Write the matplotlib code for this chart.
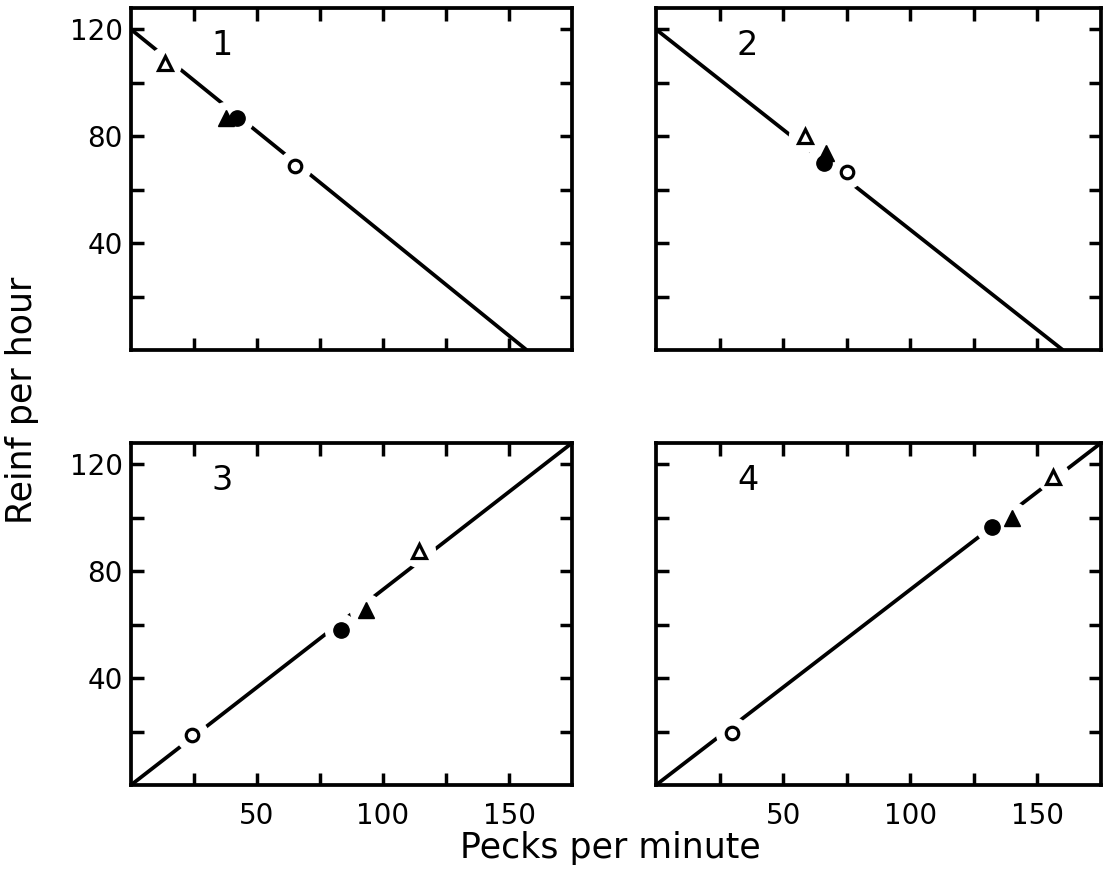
import matplotlib
matplotlib.use("Agg")
import matplotlib.pyplot as plt

# ---- data ----
panel_labels = ["1", "2", "3", "4"]
line_x = [[0, 157], [0, 160], [0, 175], [0, 175]]
line_y = [[120, 0], [120, 0], [0, 128], [0, 128]]

open_tri_x = [13.6, 58.5, 114.3, 156.1]
open_tri_y = [107.5, 80.0, 87.5, 115.4]
filled_tri_x = [37.7, 66.7, 93.3, 140.0]
filled_tri_y = [86.9, 73.7, 65.6, 100.0]
filled_circ_x = [42.0, 66.0, 83.5, 132.2]
filled_circ_y = [86.9, 70.0, 57.9, 96.6]
open_circ_x = [65.1, 75.3, 24.3, 29.8]
open_circ_y = [68.7, 66.5, 18.7, 19.6]

x_ticks = [25, 50, 75, 100, 125, 150]
x_ticklabels = ["", "50", "", "100", "", "150"]
y_ticks = [20, 40, 60, 80, 100, 120]
y_ticklabels = ["", "40", "", "80", "", "120"]
x_max = 175
y_max = 128

plt.rcParams['font.family'] = ['DejaVu Sans']

W, H = 1105, 882
fig = plt.figure(figsize=(W / 100, H / 100), dpi=100)

# axes rectangles in pixels: (left, top, right, bottom)
rects = [(131, 8, 572, 350), (656, 8, 1101, 350),
         (131, 443, 572, 785), (656, 443, 1101, 785)]

for i, (l, t, r, b) in enumerate(rects):
    ax = fig.add_axes([l / W, 1 - b / H, (r - l) / W, (b - t) / H])
    ax.set_xlim(0, x_max)
    ax.set_ylim(0, y_max)
    ax.plot(line_x[i], line_y[i], color='black', lw=2.7, zorder=2,
            solid_capstyle='butt')
    # white halos to break the line around the points
    hx = [open_tri_x[i], filled_tri_x[i], filled_circ_x[i], open_circ_x[i]]
    hy = [open_tri_y[i], filled_tri_y[i], filled_circ_y[i], open_circ_y[i]]
    ax.plot(hx, hy, 'o', ms=24, color='white', mec='none', zorder=3)
    ax.plot(open_tri_x[i], open_tri_y[i], '^', ms=10, mfc='white', mec='black',
            mew=2.3, zorder=4)
    ax.plot(filled_tri_x[i], filled_tri_y[i], '^', ms=11, color='black', zorder=4)
    ax.plot(filled_circ_x[i], filled_circ_y[i], 'o', ms=11, color='black', zorder=4)
    ax.plot(open_circ_x[i], open_circ_y[i], 'o', ms=9, mfc='white', mec='black',
            mew=2.3, zorder=4)
    ax.text(36, 114, panel_labels[i], fontsize=24, ha='center', va='center')

    for sp in ax.spines.values():
        sp.set_linewidth(2.7)
        sp.set_zorder(5)
    ax.set_xticks(x_ticks)
    ax.set_yticks(y_ticks)
    ax.tick_params(direction='in', top=True, right=True, length=9, width=2.5,
                   labelsize=20)
    ax.tick_params(axis='x', pad=12)
    ax.tick_params(axis='y', pad=6)
    if i >= 2:
        ax.set_xticklabels(x_ticklabels)
    else:
        ax.set_xticklabels([])
    if i % 2 == 0:
        ax.set_yticklabels(y_ticklabels)
    else:
        ax.set_yticklabels([])

fig.text(610 / W, 1 - 848 / H, "Pecks per minute", fontsize=25,
         ha='center', va='center')
fig.text(22 / W, 1 - 400 / H, "Reinf per hour", fontsize=25,
         ha='center', va='center', rotation=90)

fig.savefig("out.png", dpi=100, facecolor='white')
